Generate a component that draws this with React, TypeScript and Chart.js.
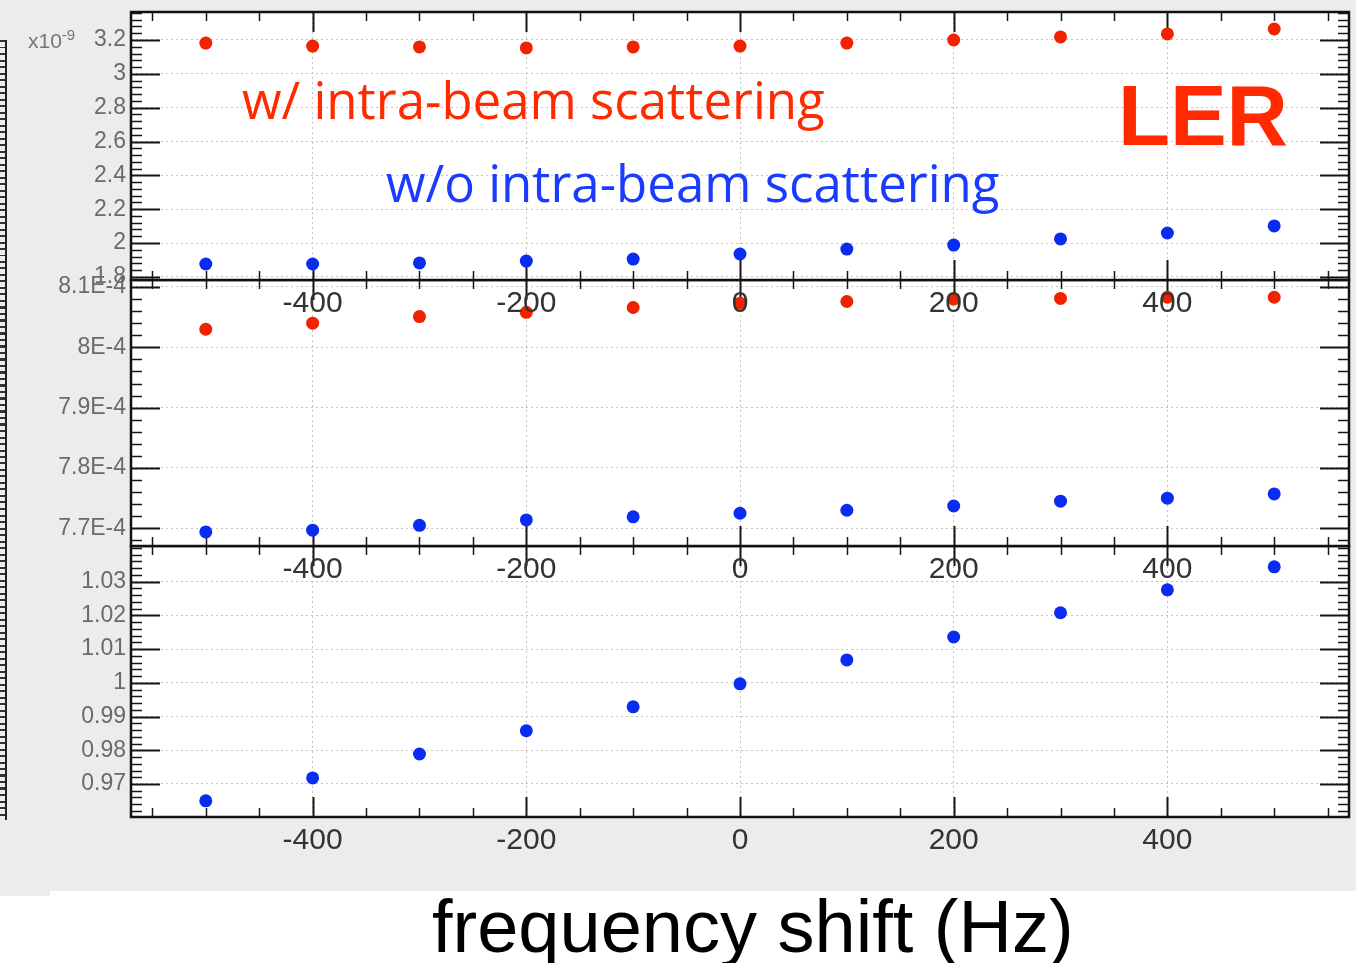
import React, { useEffect, useRef } from "react";
import { Chart, registerables } from "chart.js";

Chart.register(...registerables);

// ---------------- data ----------------
const FREQ_SHIFT = [-500, -400, -300, -200, -100, 0, 100, 200, 300, 400, 500];

// top panel (units of 1e-9)
const TOP_WITH_IBS = [3.182, 3.164, 3.159, 3.153, 3.159, 3.164, 3.182, 3.2, 3.218, 3.236, 3.265];
const TOP_WITHOUT_IBS = [1.876, 1.876, 1.882, 1.893, 1.905, 1.935, 1.964, 1.988, 2.024, 2.059, 2.101];

// middle panel
const MID_WITH_IBS = [8.03e-4, 8.04e-4, 8.051e-4, 8.058e-4, 8.066e-4, 8.073e-4, 8.076e-4, 8.08e-4, 8.081e-4, 8.083e-4, 8.083e-4];
const MID_WITHOUT_IBS = [7.694e-4, 7.697e-4, 7.705e-4, 7.714e-4, 7.719e-4, 7.725e-4, 7.73e-4, 7.737e-4, 7.745e-4, 7.75e-4, 7.757e-4];

// bottom panel
const BOT_RATIO = [0.965, 0.9718, 0.9789, 0.9858, 0.9929, 0.9997, 1.0068, 1.0136, 1.0208, 1.0276, 1.0344];

// tick labels
const X_TICKS = [-400, -200, 0, 200, 400];
const X_TICK_LABELS = ["-400", "-200", "0", "200", "400"];
const TOP_Y_TICKS = [1.8, 2, 2.2, 2.4, 2.6, 2.8, 3, 3.2];
const TOP_Y_LABELS = ["1.8", "2", "2.2", "2.4", "2.6", "2.8", "3", "3.2"];
const MID_Y_TICKS = [7.7e-4, 7.8e-4, 7.9e-4, 8e-4, 8.1e-4];
const MID_Y_LABELS = ["7.7E-4", "7.8E-4", "7.9E-4", "8E-4", "8.1E-4"];
const BOT_Y_TICKS = [0.97, 0.98, 0.99, 1, 1.01, 1.02, 1.03];
const BOT_Y_LABELS = ["0.97", "0.98", "0.99", "1", "1.01", "1.02", "1.03"];

// ---------------- style / layout ----------------
const W = 1356;
const H = 963;
const FRAME_LEFT = 131;
const FRAME_RIGHT = 1349;
const XAXIS_H = 50;
const X_MIN = -570;
const X_MAX = 570;
const RED = "#f02200";
const BLUE = "#0a2cf0";

Chart.defaults.font.family = "'Liberation Sans', Arial, sans-serif";

type Panel = {
  top: number;
  bottom: number;
  yMin: number;
  yMax: number;
  yTicks: number[];
  yLabels: string[];
  yMinorStep: number;
  yFont: number;
  series: { data: number[]; color: string }[];
  z: number;
};

const PANELS: Panel[] = [
  {
    top: 12, bottom: 280, yMin: 1.7813, yMax: 3.3655,
    yTicks: TOP_Y_TICKS, yLabels: TOP_Y_LABELS, yMinorStep: 0.04, yFont: 23,
    series: [{ data: TOP_WITH_IBS, color: RED }, { data: TOP_WITHOUT_IBS, color: BLUE }],
    z: 3,
  },
  {
    top: 280, bottom: 546, yMin: 7.6707e-4, yMax: 8.1116e-4,
    yTicks: MID_Y_TICKS, yLabels: MID_Y_LABELS, yMinorStep: 2e-6, yFont: 23,
    series: [{ data: MID_WITH_IBS, color: RED }, { data: MID_WITHOUT_IBS, color: BLUE }],
    z: 2,
  },
  {
    top: 546, bottom: 817, yMin: 0.96021, yMax: 1.04059,
    yTicks: BOT_Y_TICKS, yLabels: BOT_Y_LABELS, yMinorStep: 0.002, yFont: 23,
    series: [{ data: BOT_RATIO, color: BLUE }],
    z: 1,
  },
];

const framePlugin = {
  id: "rootFrame",
  beforeDraw(chart: any) {
    const { ctx, chartArea: a } = chart;
    ctx.save();
    ctx.fillStyle = "#ffffff";
    ctx.fillRect(a.left, a.top, a.right - a.left, a.bottom - a.top);
    ctx.restore();
  },
  beforeDatasetsDraw(chart: any, _args: any, opts: any) {
    const { ctx, chartArea: a, scales } = chart;
    const xs = scales.x;
    const ys = scales.y;
    const line = (x1: number, y1: number, x2: number, y2: number) => {
      ctx.beginPath();
      ctx.moveTo(x1, y1);
      ctx.lineTo(x2, y2);
      ctx.stroke();
    };
    ctx.save();
    ctx.strokeStyle = "#151515";
    // x ticks (inside, top and bottom)
    for (let v = -550; v <= 550; v += 50) {
      const px = Math.round(xs.getPixelForValue(v)) + 0.5;
      const major = X_TICKS.includes(v);
      const len = major ? 20 : 9;
      ctx.lineWidth = major ? 2 : 1.5;
      line(px, a.bottom, px, a.bottom - len);
      line(px, a.top, px, a.top + len);
    }
    // y ticks (inside, left and right)
    const step = opts.minorStep;
    const start = Math.ceil(ys.min / step);
    const end = Math.floor(ys.max / step);
    for (let k = start; k <= end; k++) {
      const v = k * step;
      const py = Math.round(ys.getPixelForValue(v)) + 0.5;
      const major = opts.majors.some((m: number) => Math.abs(m - v) < step * 0.1);
      const len = major ? 29 : 11;
      ctx.lineWidth = major ? 2 : 1.5;
      line(a.left, py, a.left + len, py);
      line(a.right, py, a.right - len, py);
    }
    ctx.lineWidth = 2.5;
    ctx.strokeStyle = "#111";
    ctx.strokeRect(a.left, a.top, a.right - a.left, a.bottom - a.top);
    ctx.restore();
  },
};

function PanelChart({ panel }: { panel: Panel }) {
  const ref = useRef<HTMLCanvasElement>(null);
  useEffect(() => {
    const chart = new Chart(ref.current as HTMLCanvasElement, {
      type: "scatter",
      data: {
        datasets: panel.series.map((s) => ({
          data: FREQ_SHIFT.map((x, i) => ({ x, y: s.data[i] })),
          backgroundColor: s.color,
          borderColor: s.color,
          borderWidth: 0,
          pointRadius: 6.5,
          pointHoverRadius: 6.5,
        })),
      },
      options: {
        animation: false,
        responsive: false,
        devicePixelRatio: 1,
        events: [],
        layout: {
          padding: {
            left: 0,
            right: W - FRAME_RIGHT,
            top: panel.top,
            bottom: H - panel.bottom - XAXIS_H,
          },
        },
        plugins: {
          legend: { display: false },
          tooltip: { enabled: false },
          rootFrame: { majors: panel.yTicks, minorStep: panel.yMinorStep },
        } as any,
        scales: {
          x: {
            type: "linear",
            position: "bottom",
            min: X_MIN,
            max: X_MAX,
            afterBuildTicks: (s: any) => {
              s.ticks = X_TICKS.map((v) => ({ value: v }));
            },
            afterFit: (s: any) => {
              s.height = XAXIS_H;
              s.paddingLeft = 0;
              s.paddingRight = 0;
            },
            ticks: {
              autoSkip: false,
              maxRotation: 0,
              padding: 6,
              color: "#333333",
              font: { size: 30 },
              callback: (_v: any, i: number) => X_TICK_LABELS[i],
            },
            grid: { color: "#c4c4c4", lineWidth: 1, drawTicks: false },
            border: { display: false, dash: [2, 3] },
          },
          y: {
            type: "linear",
            position: "left",
            min: panel.yMin,
            max: panel.yMax,
            afterBuildTicks: (s: any) => {
              s.ticks = panel.yTicks.map((v) => ({ value: v }));
            },
            afterFit: (s: any) => {
              s.width = FRAME_LEFT;
              s.paddingTop = 0;
              s.paddingBottom = 0;
            },
            ticks: {
              autoSkip: false,
              padding: 5,
              color: "#6a6a6a",
              font: { size: panel.yFont },
              callback: (_v: any, i: number) => panel.yLabels[i],
            },
            grid: { color: "#c4c4c4", lineWidth: 1, drawTicks: false },
            border: { display: false, dash: [2, 3] },
          },
        },
      },
      plugins: [framePlugin as any],
    });
    return () => chart.destroy();
  }, []);
  return (
    <canvas
      ref={ref}
      width={W}
      height={H}
      style={{ position: "absolute", left: 0, top: 0, zIndex: panel.z, width: W, height: H }}
    />
  );
}

export default function App() {
  return (
    <div
      style={{
        position: "absolute",
        left: 0,
        top: 0,
        width: W,
        height: H,
        background: "#ffffff",
        overflow: "hidden",
      }}
    >
      <div style={{ position: "absolute", left: 0, top: 0, width: W, height: 891, background: "#ececec" }} />
      <div style={{ position: "absolute", left: 0, top: 0, width: 50, height: 896, background: "#ececec" }} />
      <div
        style={{
          position: "absolute",
          left: 0,
          top: 40,
          width: 5,
          height: 780,
          borderRight: "2px solid #222",
          background: "repeating-linear-gradient(to bottom, #333 0px, #333 2px, transparent 2px, transparent 6.5px)",
        }}
      />
      {PANELS.map((p, i) => (
        <PanelChart key={i} panel={p} />
      ))}
      <div
        style={{
          position: "absolute",
          left: 28,
          top: 25,
          zIndex: 5,
          color: "#777",
          fontFamily: "'Liberation Sans', Arial, sans-serif",
          fontSize: 21,
          lineHeight: "20px",
          whiteSpace: "nowrap",
        }}
      >
        x10<sup style={{ fontSize: 15, verticalAlign: "8px" }}>-9</sup>
      </div>
      <div
        style={{
          position: "absolute",
          left: 242,
          top: 119 - 45,
          zIndex: 5,
          color: "#ff2a00",
          fontFamily: "'Open Sans', sans-serif",
          fontSize: 51,
          lineHeight: 1,
          whiteSpace: "nowrap",
        }}
      >
        w/ intra-beam scattering
      </div>
      <div
        style={{
          position: "absolute",
          left: 386,
          top: 202 - 45,
          zIndex: 5,
          color: "#1a3cff",
          fontFamily: "'Open Sans', sans-serif",
          fontSize: 51,
          lineHeight: 1,
          whiteSpace: "nowrap",
        }}
      >
        w/o intra-beam scattering
      </div>
      <div
        style={{
          position: "absolute",
          left: 1118,
          top: 145 - 72,
          zIndex: 5,
          color: "#ff2a00",
          fontFamily: "'Liberation Sans', Arial, sans-serif",
          fontWeight: 700,
          fontSize: 85,
          lineHeight: 1,
          whiteSpace: "nowrap",
        }}
      >
        LER
      </div>
      <div
        style={{
          position: "absolute",
          left: 432,
          top: 952 - 62,
          zIndex: 5,
          color: "#000",
          fontFamily: "'Liberation Sans', Arial, sans-serif",
          fontSize: 74,
          lineHeight: 1,
          whiteSpace: "nowrap",
        }}
      >
        frequency shift (Hz)
      </div>
    </div>
  );
}
